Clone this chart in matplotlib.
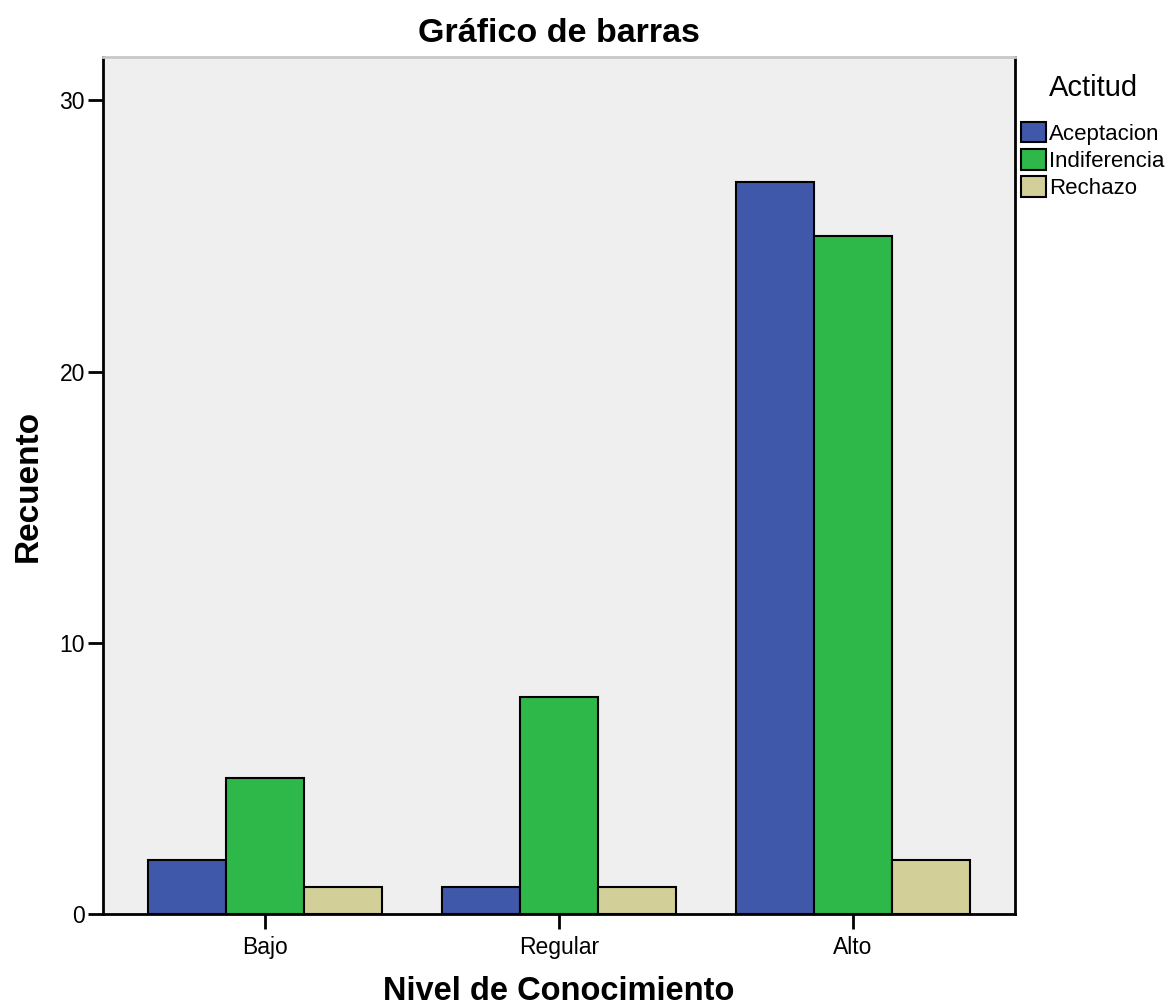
import numpy as np
import matplotlib.pyplot as plt

plt.rcParams['font.family'] = ['Liberation Sans', 'DejaVu Sans']

niveles = ['Bajo', 'Regular', 'Alto']
actitudes = ['Aceptacion', 'Indiferencia', 'Rechazo']
aceptacion = [2, 1, 27]
indiferencia = [5, 8, 25]
rechazo = [1, 1, 2]
colores = ['#3f58aa', '#2eb84a', '#d3cf98']

fig = plt.figure(figsize=(11.76, 10.07), dpi=100)
ax = fig.add_axes([0.0876, 0.0924, 0.7755, 0.851])
ax.set_facecolor('#efefef')

x = np.arange(len(niveles))
w = 0.265
for i, (vals, nombre) in enumerate(zip([aceptacion, indiferencia, rechazo], actitudes)):
    ax.bar(x + (i - 1) * w, vals, width=w, color=colores[i], edgecolor='black',
           linewidth=1.5, label=nombre, zorder=3)

ax.set_xlim(-0.551, 2.551)
ax.set_ylim(0, 31.6)
ax.set_yticks([0, 10, 20, 30])
ax.set_xticks(x)
ax.set_xticklabels(niveles)
ax.tick_params(axis='both', labelsize=16.5, width=2, length=11, color='black')
ax.tick_params(axis='x', pad=5)
ax.tick_params(axis='y', pad=2)

for s in ['left', 'right', 'bottom']:
    ax.spines[s].set_linewidth(2)
    ax.spines[s].set_color('black')
ax.spines['top'].set_color('#c8c8c8')
ax.spines['top'].set_linewidth(2)

ax.set_title('Gráfico de barras', fontsize=24.5, fontweight='bold', pad=11)
ax.set_xlabel('Nivel de Conocimiento', fontsize=23.5, fontweight='bold', labelpad=12)
ax.set_ylabel('Recuento', fontsize=24, fontweight='bold', labelpad=11)

leg = fig.legend(loc='upper left', bbox_to_anchor=(0.861, 0.935), frameon=False,
                 title='Actitud', fontsize=16, title_fontsize=21,
                 handlelength=1.1, handleheight=1.05, handletextpad=0.15,
                 labelspacing=0.2, borderaxespad=0)
leg._legend_box.sep = 14

fig.savefig('out.png', dpi=100)
